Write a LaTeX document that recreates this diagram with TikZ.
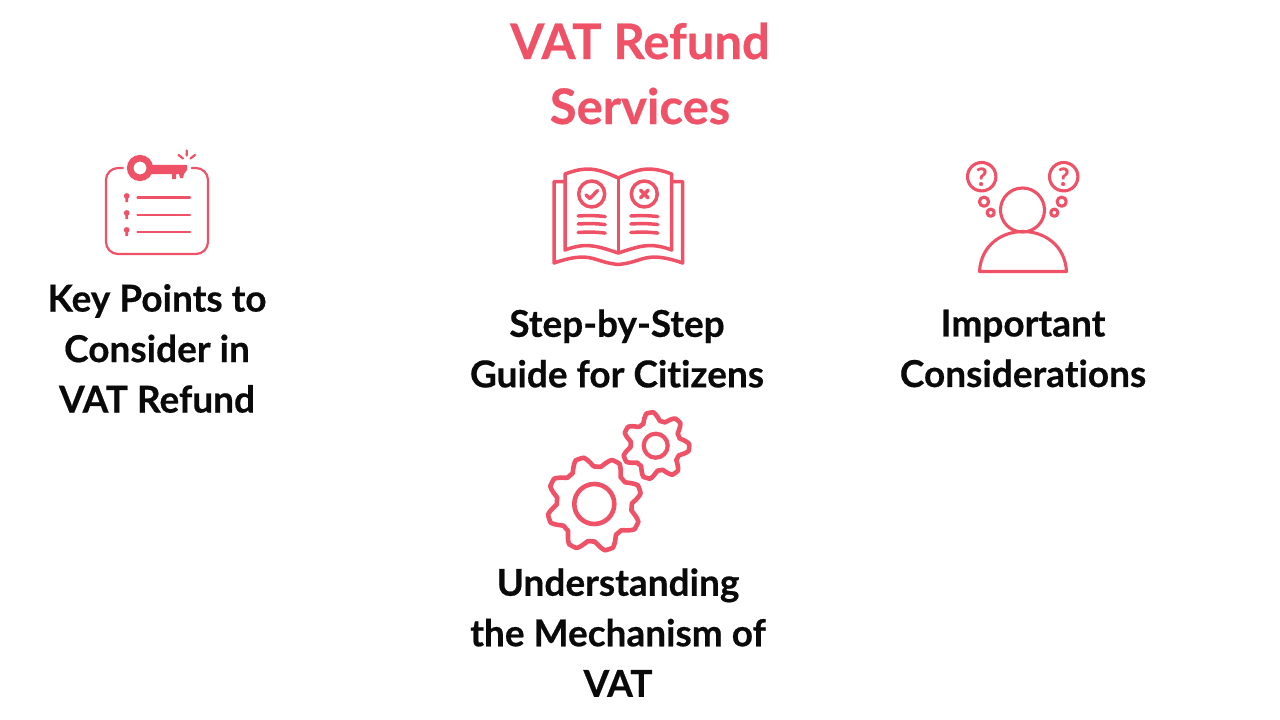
\documentclass[tikz,border=0pt]{standalone}
\usepackage{fontspec}
\setmainfont{Lato}[Ligatures=NoCommon,BoldFeatures={FakeBold=0.5}]
\definecolor{rosered}{HTML}{EF5166}
\definecolor{inkblack}{HTML}{0A0A0A}
\newcommand{\gearpath}[6]{% cx, cy, outer, root, teeth, phase
	\draw[icon,line width=4.6pt] plot[domain=0:360,samples=361,smooth cycle]
	({#1+(0.5*(#3+#4)+0.5*(#3-#4)*max(-1,min(1,1.3*cos(#5*(\x-#6)))))*cos(\x)},
	{#2+(0.5*(#3+#4)+0.5*(#3-#4)*max(-1,min(1,1.3*cos(#5*(\x-#6)))))*sin(-\x)});
}
\begin{document}
\begin{tikzpicture}[
		x=1pt, y=-1pt,
		title/.style={text=rosered,font=\fontsize{49}{65}\selectfont\bfseries,align=center,inner sep=0pt},
		caption/.style={text=inkblack,font=\fontsize{37}{50.5}\selectfont\bfseries,align=center,inner sep=0pt},
		icon/.style={draw=rosered,line width=2.2pt,line cap=round,line join=round},
		iconthick/.style={icon,line width=3.5pt},
		solid/.style={fill=rosered,draw=none},
		asktext/.style={text=rosered,font=\fontsize{25}{25}\selectfont\bfseries,inner sep=0pt}
		]
		\useasboundingbox (0,0) rectangle (1280,720);
		% texts
		\node[title] (head) at (640,73.5) {VAT Refund\\Services};
		\node[caption] (keytext) at (157,348.5) {Key Points to\\Consider in\\VAT Refund};
		\node[caption] (steptext) at (617,348.5) {Step-by-Step\\Guide for Citizens};
		\node[caption] (consider) at (1023,348.5) {Important\\Considerations};
		\node[caption] (mechtext) at (618,632.5) {Understanding\\the Mechanism of\\VAT};
		% key icon
		\draw[icon,rounded corners=12] (122.7,168) -- (106,168) -- (106,254) -- (208,254) -- (208,168) -- (191.7,168);
		\draw[draw=rosered,line width=6.5pt] (140,168) circle[radius=9.8];
		\fill[solid] (150,164.8) -- (187,164.8) -- (187,170) -- (184,174) -- (183,178) -- (180,178) -- (179,174)
			-- (176,174) -- (176,179) -- (172,179) -- (172,174) -- (150,174) -- cycle;
		\draw[icon] (186.7,150.5) -- (186.7,155.5) (178.5,155) -- (183,158.5) (195,155) -- (190.5,158.5);
		\foreach \ypos/\yline in {197/197.5,214/214.7,231/232}{
			\fill[solid] (126.7,\ypos-1) circle[radius=2.9];
			\fill[solid] (125.5,\ypos) -- (127.9,\ypos) -- (128.1,\ypos+5) -- (125.3,\ypos+5) -- cycle;
			\draw[icon] (137.5,\yline) -- (190,\yline);
		}
		% book icon
		\foreach \xa/\xb/\xc/\xd/\xe in {564/554/592/618.3/565,672.7/682.7/644.6/618.3/671.7}{
			\draw[iconthick] (\xa,181.7) -- (\xb,181.7) -- (\xb,263)
				.. controls (\xc,250) and (\xc,262) .. (\xd,264.5);
			\draw[iconthick] (\xd,178) .. controls (\xd-0.4*\xd+0.4*\xe,168) and (\xe+0.4*\xd-0.4*\xe,166) .. (\xe,174)
				-- (\xe,250) .. controls (\xe+0.4*\xd-0.4*\xe,242) and (\xd-0.4*\xd+0.4*\xe,246) .. (\xd,253);
		}
		\draw[iconthick] (618.3,178) -- (618.3,253);
		\foreach \xmid in {591.7,644.3}{
			\draw[iconthick] (\xmid,194) circle[radius=13];
			\foreach \yline in {216,224,232.5}{
				\draw[iconthick] (\xmid-13.5,\yline) .. controls (\xmid-4,\yline-0.6) and (\xmid+4,\yline-0.6) .. (\xmid+13.5,\yline+0.6);
			}
		}
		\draw[iconthick] (586,195) -- (590,198.5) -- (597.5,190.5);
		\draw[iconthick] (640.5,190.2) -- (648.1,197.8) (648.1,190.2) -- (640.5,197.8);
		% person icon
		\draw[iconthick,line width=3.1pt] (1022.5,210) circle[radius=22];
		\draw[iconthick,line width=3.1pt] (979.5,271.5) .. controls (981,245) and (1002,231.5) .. (1023,231.5)
			.. controls (1044,231.5) and (1065,245) .. (1066.5,271.5) -- cycle;
		\foreach \xbig/\xmed/\xsma in {981.7/984/990.7,1063.7/1061.7/1054.3}{
			\draw[iconthick,line width=3.1pt] (\xbig,176.7) circle[radius=14.2];
			\draw[iconthick,line width=3.1pt] (\xmed,201.7) circle[radius=4.6];
			\draw[iconthick,line width=3.1pt] (\xsma,212.7) circle[radius=3.6];
		}
		\node[asktext] (askleft) at (981.7,176.7) {?};
		\node[asktext] (askright) at (1063.7,176.7) {?};
		% gear icon
		\gearpath{594.3}{504}{47.5}{37.5}{8}{18}
		\gearpath{655.7}{445.7}{33.5}{25}{7}{100}
		\draw[icon,line width=4.6pt] (594.3,504) circle[radius=20];
		\draw[icon,line width=4.2pt] (655.7,445.7) circle[radius=12];
	\end{tikzpicture}
\end{document}
